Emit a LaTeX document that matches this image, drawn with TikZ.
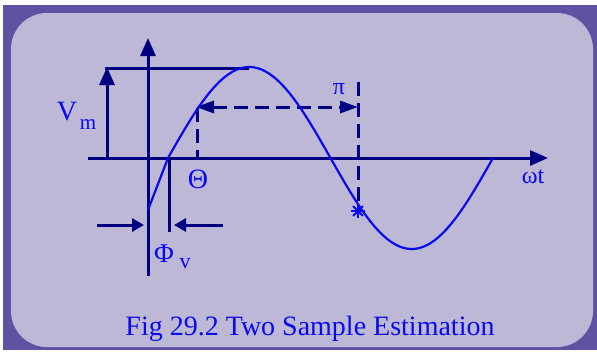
\documentclass[tikz,border=0pt]{standalone}
\usepackage{fontspec}
\setmainfont{Liberation Serif}
\usetikzlibrary{arrows.meta}
\definecolor{framepurple}{RGB}{96,82,163}
\definecolor{panel}{RGB}{188,184,214}
\definecolor{navy}{RGB}{0,0,128}
\definecolor{txtblue}{RGB}{10,10,240}
\tikzset{
  axisline/.style={draw=navy, line width=3pt},
  bigtip/.style={-{Triangle[length=18pt,width=15pt]}},
  dashline/.style={draw=navy, line width=3pt, dash pattern=on 14pt off 7pt},
  smalltip/.style={-{Triangle[length=12pt,width=13pt]}},
  curve/.style={draw=txtblue, line width=2.2pt, line join=round},
  lbl/.style={text=txtblue, inner sep=0pt},
}
\newcommand{\fsz}[1]{\fontsize{#1}{#1}\selectfont}
\begin{document}
\begin{tikzpicture}[x=1pt,y=-1pt]
\useasboundingbox (0,0) rectangle (597,354);
% frame
\fill[framepurple] (3,5) rectangle (597,350);
\fill[panel, rounded corners=36pt] (11,13) rectangle (593,347);
% key points
\coordinate (xs) at (88,158);
\coordinate (xe) at (548,158);
\coordinate (ys) at (148,276);
\coordinate (ye) at (148,38);
\coordinate (vmb) at (107,158);
\coordinate (vmt) at (107,67);
\coordinate (topl) at (105,68);
\coordinate (peak) at (249,68);
\coordinate (thp) at (197,108);
\coordinate (thb) at (197,158);
\coordinate (pit) at (358,82);
\coordinate (star) at (358,211);
\coordinate (pia) at (358,107);
\coordinate (tha) at (196,107);
\coordinate (phit) at (169,158);
\coordinate (phib) at (169,232);
\coordinate (la) at (97,225);
\coordinate (lat) at (144,225);
\coordinate (ra) at (223,225);
\coordinate (rat) at (174,225);
% axes
\draw[axisline, bigtip] (xs) -- (xe);
\draw[axisline, bigtip] (ys) -- (ye);
% Vm
\draw[axisline, bigtip] (vmb) -- (vmt);
\draw[axisline] (topl) -- (peak);
% phase lines
\draw[axisline] (phit) -- (phib);
\draw[axisline, smalltip] (la) -- (lat);
\draw[axisline, smalltip] (ra) -- (rat);
% dashed
\draw[dashline] (thp) -- (thb);
\draw[dashline] (pit) -- (star);
\draw[dashline, {Triangle[length=18pt,width=12pt]}-{Triangle[length=18pt,width=12pt]}] (tha) -- (pia);
% curve
\draw[curve] (148,210) -- (168,158) -- plot[domain=168:493, samples=120] (\x, {158-91*sin(((\x-168)/162.5*180))});
% star
\foreach \a in {0,45,90,135} \draw[txtblue, line width=2pt] (star) ++(\a:7) -- ++(\a+180:14);
% labels
\node[lbl, font=\fsz{28}] (vm) at (67,112) {V};
\node[lbl, font=\fsz{21}] (vmsub) at (88,125) {m};
\node[lbl, font=\fsz{24}] (pi) at (339,89) {π};
\node[lbl, font=\fsz{28}] (theta) at (198,179) {Θ};
\node[lbl, font=\fsz{24}] (wt) at (533,177) {ωt};
\node[lbl, font=\fsz{27}] (phi) at (164,254) {Φ};
\node[lbl, font=\fsz{22}] (phisub) at (185,264) {v};
\node[lbl, font=\fsz{28}, anchor=base] (cap) at (310,335) {Fig 29.2 Two Sample Estimation};
\end{tikzpicture}
\end{document}
